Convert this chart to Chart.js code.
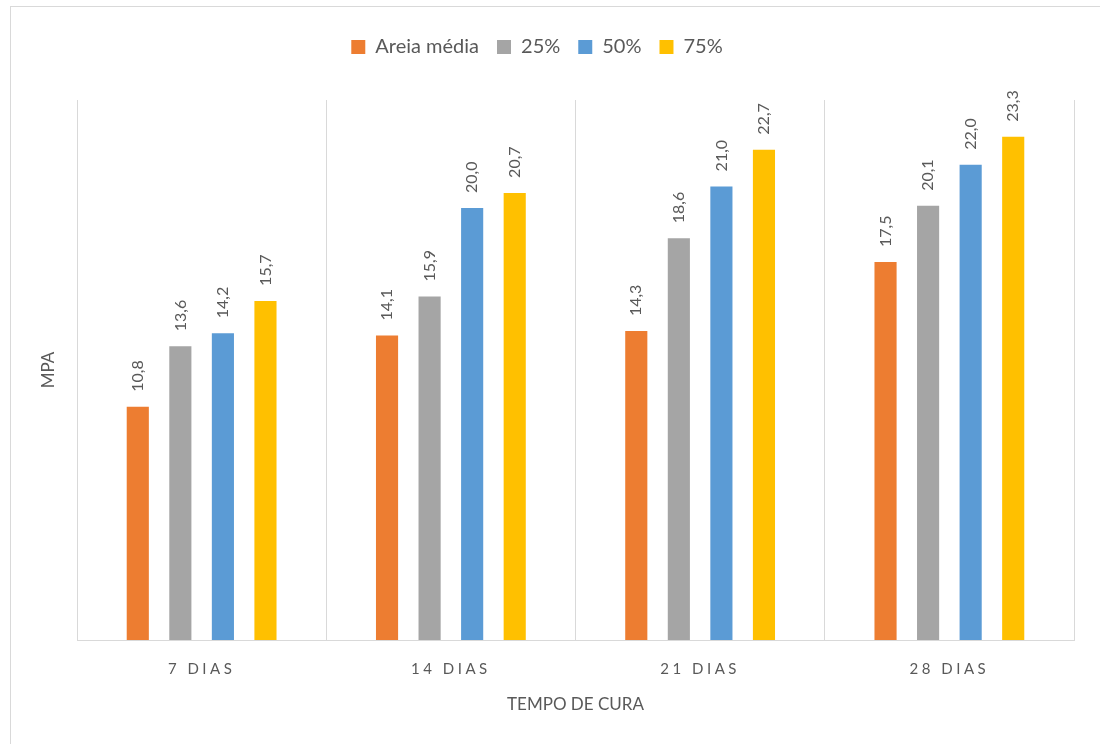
<!DOCTYPE html>
<html>
<head>
<meta charset="utf-8">
<script src="https://cdn.jsdelivr.net/npm/chart.js@4.4.1/dist/chart.umd.min.js"></script>
<style>
  html, body { margin: 0; padding: 0; background: #fff; }
  #wrap { width: 1100px; height: 744px; position: relative; }
</style>
</head>
<body>
<div id="wrap"><canvas id="mpaChart" width="1100" height="744"></canvas></div>
<script>
// Données
const categories = ['7 DIAS', '14 DIAS', '21 DIAS', '28 DIAS'];
const seriesNames = ['Areia média', '25%', '50%', '75%'];
const areiaMedia = [10.8, 14.1, 14.3, 17.5];
const pct25 = [13.6, 15.9, 18.6, 20.1];
const pct50 = [14.2, 20.0, 21.0, 22.0];
const pct75 = [15.7, 20.7, 22.7, 23.3];
const yMin = 0;
const yMax = 25;

const colors = ['#ED7D31', '#A5A5A5', '#5B9BD5', '#FFC000'];
const textColor = '#595959';
const gridColor = '#d9d9d9';
const fontFamily = 'Lato, "Open Sans", sans-serif';

// Cadre extérieur + espace sous la légende
const frame = {
    id: 'frame',
    afterInit(chart) {
        const fit = chart.legend.fit;
        chart.legend.fit = function() {
            fit.call(this);
            this.height = 81;
        };
    },
    beforeDraw(chart) {
        const ctx = chart.ctx;
        ctx.save();
        ctx.strokeStyle = gridColor;
        ctx.lineWidth = 1;
        ctx.strokeRect(10.5, 6.5, 1100, 744);
        ctx.restore();
    }
};

// Étiquettes de valeurs verticales au-dessus des barres
const valueLabels = {
    id: 'valueLabels',
    afterDatasetsDraw(chart) {
        const ctx = chart.ctx;
        ctx.save();
        ctx.fillStyle = textColor;
        ctx.font = '16px ' + fontFamily;
        ctx.textAlign = 'left';
        ctx.textBaseline = 'middle';
        chart.data.datasets.forEach(function(ds, i) {
            const meta = chart.getDatasetMeta(i);
            meta.data.forEach(function(bar, j) {
                const txt = ds.data[j].toFixed(1).replace('.', ',');
                ctx.save();
                ctx.translate(bar.x, bar.y - 15);
                ctx.rotate(-Math.PI / 2);
                ctx.fillText(txt, 0, 0);
                ctx.restore();
            });
        });
        ctx.restore();
        // espacement des lettres pour les libellés de l'axe X (dessinés après)
        ctx.letterSpacing = '3.5px';
    },
    afterDraw(chart) {
        chart.ctx.letterSpacing = '0px';
    }
};

const ctx = document.getElementById('mpaChart').getContext('2d');
const mpaChart = new Chart(ctx, {
    type: 'bar',
    data: {
        labels: categories,
        datasets: [areiaMedia, pct25, pct50, pct75].map(function(values, i) {
            return {
                label: seriesNames[i],
                data: values,
                backgroundColor: colors[i],
                borderWidth: 0,
                barPercentage: 0.52,
                categoryPercentage: 0.683
            };
        })
    },
    options: {
        responsive: false,
        animation: false,
        layout: { padding: { top: 19, right: 26, left: 0, bottom: 0 } },
        plugins: {
            legend: {
                position: 'top',
                labels: {
                    boxWidth: 14,
                    boxHeight: 14,
                    padding: 18,
                    color: textColor,
                    font: { family: fontFamily, size: 20 }
                }
            },
            tooltip: { enabled: false }
        },
        scales: {
            x: {
                afterFit: function(scale) { scale.height = 104; },
                grid: { color: gridColor, drawTicks: false, offset: true },
                border: { color: gridColor },
                ticks: {
                    z: 1,
                    padding: 20,
                    color: textColor,
                    font: { family: fontFamily, size: 15 }
                },
                title: {
                    display: true,
                    text: 'TEMPO DE CURA',
                    color: textColor,
                    font: { family: fontFamily, size: 17 },
                    padding: { top: 0, bottom: 29 }
                }
            },
            y: {
                min: yMin,
                max: yMax,
                afterFit: function(scale) { scale.width = 77; },
                grid: { display: false },
                border: { color: gridColor },
                ticks: { display: false },
                title: {
                    display: true,
                    text: 'MPA',
                    color: textColor,
                    font: { family: fontFamily, size: 17 },
                    padding: { top: 38, bottom: 0 }
                }
            }
        }
    },
    plugins: [frame, valueLabels]
});
</script>
</body>
</html>
